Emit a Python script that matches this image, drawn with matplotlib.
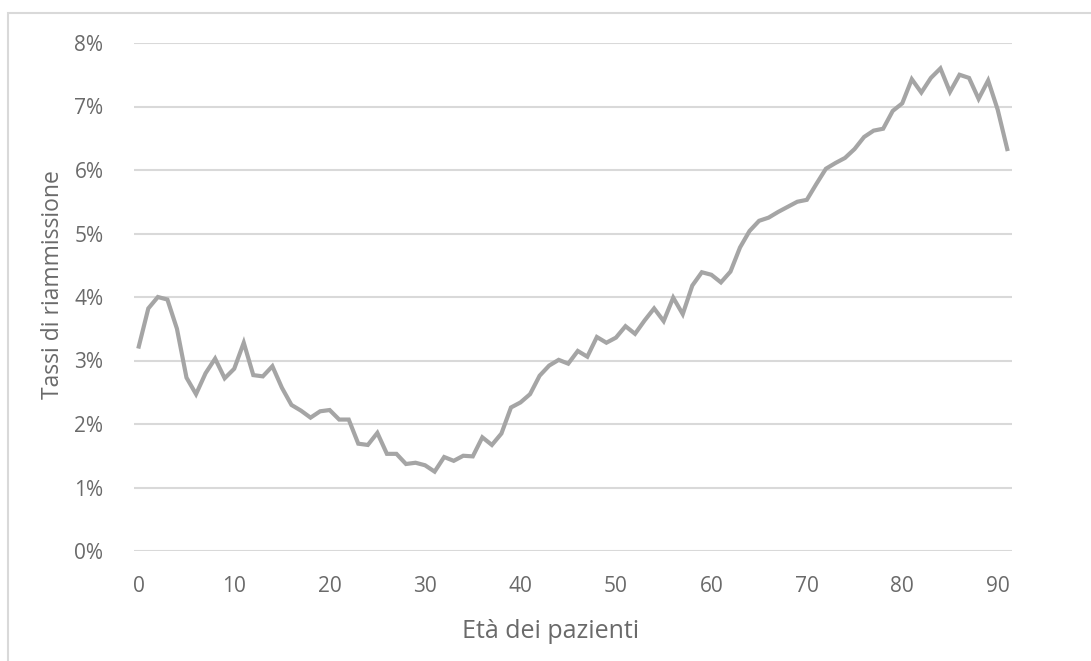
import matplotlib
matplotlib.use('Agg')
import matplotlib.pyplot as plt
from matplotlib.patches import Rectangle
from matplotlib.ticker import FuncFormatter

# age of patients, 0..91
ages = list(range(92))
# readmission rate in percent
rates = [3.22, 3.82, 4.00, 3.96, 3.50, 2.73, 2.47, 2.80, 3.03, 2.72,
         2.87, 3.28, 2.77, 2.75, 2.91, 2.57, 2.30, 2.21, 2.10, 2.20,
         2.22, 2.07, 2.07, 1.69, 1.67, 1.86, 1.53, 1.53, 1.37, 1.39,
         1.35, 1.25, 1.48, 1.42, 1.50, 1.49, 1.79, 1.67, 1.85, 2.26,
         2.34, 2.47, 2.76, 2.92, 3.01, 2.95, 3.15, 3.06, 3.37, 3.28,
         3.36, 3.54, 3.42, 3.63, 3.82, 3.62, 3.99, 3.73, 4.18, 4.39,
         4.35, 4.23, 4.40, 4.78, 5.04, 5.20, 5.25, 5.34, 5.42, 5.50,
         5.53, 5.78, 6.02, 6.11, 6.19, 6.33, 6.52, 6.62, 6.65, 6.93,
         7.05, 7.43, 7.22, 7.45, 7.60, 7.23, 7.50, 7.45, 7.12, 7.41,
         6.95, 6.33]
x_ticks = [0, 10, 20, 30, 40, 50, 60, 70, 80, 90]
y_ticks = [0, 1, 2, 3, 4, 5, 6, 7, 8]

plt.rcParams['font.family'] = ['Open Sans', 'DejaVu Sans']
text_col = '#6a6a6a'
grid_col = '#D9D9D9'

fig = plt.figure(figsize=(10.91, 6.61), dpi=100)
ax = fig.add_axes([134 / 1091, 1 - 551 / 661, 878 / 1091, 508 / 661])

# outer chart frame (cut off at right and bottom like the source)
fig.patches.append(Rectangle((8 / 1091, -0.1), 1.2, 1 - 13 / 661 + 0.1,
                             transform=fig.transFigure, fill=False,
                             edgecolor=grid_col, linewidth=1.5))

ax.plot(ages, rates, color='#A5A5A5', linewidth=3, solid_joinstyle='miter')

ax.set_xlim(-0.5, 91.5)
ax.set_ylim(0, 8)
ax.set_xticks(x_ticks)
ax.set_yticks(y_ticks)
ax.yaxis.set_major_formatter(FuncFormatter(lambda v, p: f'{int(v)}%'))
ax.grid(axis='y', color=grid_col, linewidth=1.5)
ax.set_axisbelow(True)
for s in ax.spines.values():
    s.set_visible(False)
ax.tick_params(length=0, labelsize=15, labelcolor=text_col)
ax.tick_params(axis='y', pad=22)
ax.tick_params(axis='x', pad=18)

# axis titles are centred on the chart area, not the plot area
ax.set_xlabel('Età dei pazienti', fontsize=18, color=text_col, va='center')
ax.xaxis.set_label_coords((551 - 134) / 878, (551 - 631) / 508)
ax.set_ylabel('Tassi di riammissione', fontsize=16.5, color=text_col,
              va='center', ha='center')
ax.yaxis.set_label_coords((53 - 134) / 878, (551 - 285) / 508)

fig.savefig('out.png', dpi=100)
